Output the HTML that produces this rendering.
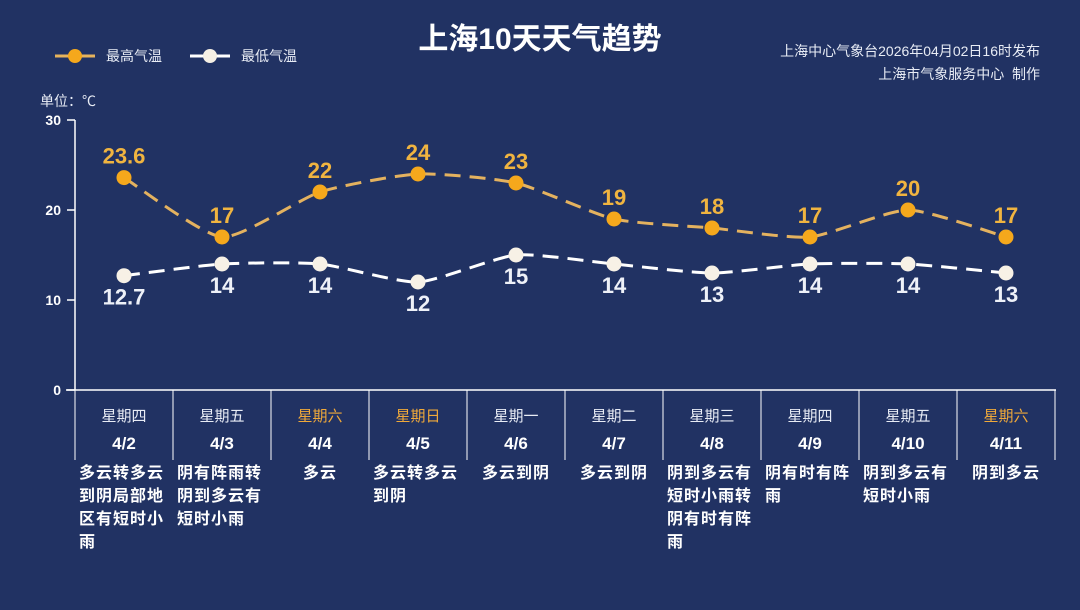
<!DOCTYPE html>
<html><head><meta charset="utf-8">
<style>
html,body{margin:0;padding:0;}
body{width:1080px;height:610px;background:#213263;position:relative;overflow:hidden;font-family:"Liberation Sans","Noto Sans CJK SC",sans-serif;color:#fff;}
#title{position:absolute;left:0;width:1080px;top:14px;text-align:center;font-size:30px;font-weight:bold;color:#fff;}
.src{position:absolute;right:40px;font-size:14px;color:#e8ecf5;text-align:right;}
.desc{position:absolute;top:462px;width:98px;text-align:center;}
.desc span{display:inline-block;max-width:90px;text-align:left;font-size:16px;font-weight:bold;line-height:23px;letter-spacing:1px;color:#fff;}
</style></head>
<body>
<div id="title">上海10天天气趋势</div>
<div class="src" style="top:41px">上海中心气象台2026年04月02日16时发布</div>
<div class="src" style="top:64px">上海市气象服务中心&nbsp; 制作</div>
<svg id="chart" width="1080" height="610" style="position:absolute;left:0;top:0"></svg>
<div id="descs"></div>
<script>
const dates=["4/2","4/3","4/4","4/5","4/6","4/7","4/8","4/9","4/10","4/11"];
const weekdays=["星期四","星期五","星期六","星期日","星期一","星期二","星期三","星期四","星期五","星期六"];
const highs=[23.6,17,22,24,23,19,18,17,20,17];
const lows=[12.7,14,14,12,15,14,13,14,14,13];
const highLabels=["23.6","17","22","24","23","19","18","17","20","17"];
const lowLabels=["12.7","14","14","12","15","14","13","14","14","13"];
const weather=["多云转多云到阴局部地区有短时小雨","阴有阵雨转阴到多云有短时小雨","多云","多云转多云到阴","多云到阴","多云到阴","阴到多云有短时小雨转阴有时有阵雨","阴有时有阵雨","阴到多云有短时小雨","阴到多云"];
const yTicks=[0,10,20,30];

const NS="http://www.w3.org/2000/svg";
const svg=document.getElementById('chart');
const X0=75,COLW=98,Y0=390,YS=9;
const xs=i=>X0+COLW*i+COLW/2;
const ys=v=>Y0-v*YS;
function mk(tag,attrs,parent){const e=document.createElementNS(NS,tag);for(const k in attrs)e.setAttribute(k,attrs[k]);(parent||svg).appendChild(e);return e;}

let g=mk('g',{});


mk('line',{x1:55,y1:56,x2:95,y2:56,stroke:'#e6b35c','stroke-width':3},g);
mk('circle',{cx:75,cy:56,r:7,fill:'#f5a81c'},g);
let t=mk('text',{x:106,y:61,fill:'#e8ecf5','font-size':14},g);t.textContent='最高气温';
mk('line',{x1:190,y1:56,x2:230,y2:56,stroke:'#fff','stroke-width':3},g);
mk('circle',{cx:210,cy:56,r:7,fill:'#f5efe4'},g);
t=mk('text',{x:241,y:61,fill:'#e8ecf5','font-size':14},g);t.textContent='最低气温';
t=mk('text',{x:40,y:106,fill:'#e8ecf5','font-size':14});t.textContent='单位：℃';



let ax=mk('line',{x1:X0,y1:ys(30),x2:X0,y2:Y0,stroke:'#fff','stroke-width':1.5});


yTicks.forEach(v=>{
  const tl=mk('line',{x1:X0-8,y1:ys(v),x2:X0,y2:ys(v),stroke:'#fff','stroke-width':1.5});
  
  
  const tx=mk('text',{x:X0-14,y:ys(v)+5,fill:'#fff','font-size':14,'font-weight':'bold','text-anchor':'end'});
  tx.textContent=v;
  
  
});
let xa=mk('line',{x1:66,y1:Y0,x2:1056,y2:Y0,stroke:'#fff','stroke-width':1.5});


for(let i=0;i<=dates.length;i++){
  const s=mk('line',{x1:X0+COLW*i,y1:Y0,x2:X0+COLW*i,y2:460,stroke:'#fff','stroke-width':1});
  
  
}
dates.forEach((d,i)=>{
  const wk=weekdays[i];const weekend=(wk==="星期六"||wk==="星期日");
  const a=mk('text',{x:xs(i),y:421,fill:weekend?'#f0a93a':'#e8ecf5','font-size':15,'text-anchor':'middle'});
  a.textContent=wk;
  
  
  const b=mk('text',{x:xs(i),y:449,fill:'#fff','font-size':17,'font-weight':'bold','text-anchor':'middle'});
  b.textContent=d;
  
  
});

function smooth(pts){
  let d=`M${pts[0][0]},${pts[0][1]}`;
  for(let i=0;i<pts.length-1;i++){
    const p0=pts[i-1]||pts[i],p1=pts[i],p2=pts[i+1],p3=pts[i+2]||p2;
    const k=0.1;
    d+=` C${p1[0]+(p2[0]-p0[0])*k},${p1[1]+(p2[1]-p0[1])*k} ${p2[0]-(p3[0]-p1[0])*k},${p2[1]-(p3[1]-p1[1])*k} ${p2[0]},${p2[1]}`;
  }
  return d;
}
function series(vals,labels,lineC,dotC,txtC,above,name){
  const pts=vals.map((v,i)=>[xs(i),ys(v)]);
  const p=mk('path',{d:smooth(pts),fill:'none',stroke:lineC,'stroke-width':3,'stroke-dasharray':'16,9'});
  
  
  vals.forEach((v,i)=>{
    const c=mk('circle',{cx:xs(i),cy:ys(v),r:7.5,fill:dotC});
    
    
    const l=mk('text',{x:xs(i),y:above?ys(v)-14:ys(v)+29,fill:txtC,'font-size':22,'font-weight':'bold','text-anchor':'middle'});
    l.textContent=labels[i];
    
    
  });
}
series(highs,highLabels,'#e4b25f','#f5a81c','#f0b440',true,'high-temp');
series(lows,lowLabels,'#ffffff','#f7f1e6','#eef1f8',false,'low-temp');

const dc=document.getElementById('descs');
weather.forEach((w,i)=>{
  const d=document.createElement('div');
  d.className='desc';d.style.left=(X0+COLW*i)+'px';
  
  
  const s=document.createElement('span');s.textContent=w;d.appendChild(s);dc.appendChild(d);
});
</script>
</body></html>
